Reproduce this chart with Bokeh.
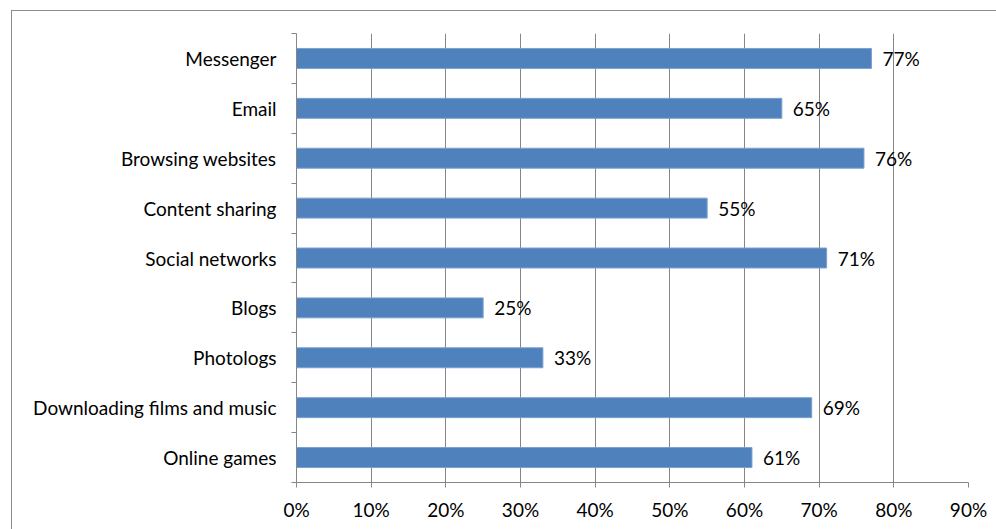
from bokeh.plotting import figure
from bokeh.models import ColumnDataSource, Range1d, FixedTicker, NumeralTickFormatter
from bokeh.core.properties import value
from bokeh.embed import file_html
from bokeh.resources import INLINE

categories = ["Messenger", "Email", "Browsing websites", "Content sharing", "Social networks",
              "Blogs", "Photologs", "Downloading films and music", "Online games"]
shares = [0.77, 0.65, 0.76, 0.55, 0.71, 0.25, 0.33, 0.69, 0.61]
share_labels = ["77%", "65%", "76%", "55%", "71%", "25%", "33%", "69%", "61%"]
x_ticks = [0, 0.1, 0.2, 0.3, 0.4, 0.5, 0.6, 0.7, 0.8, 0.9]

n = len(categories)
ypos = [n - i - 0.5 for i in range(n)]
src = ColumnDataSource(dict(y=ypos, v=shares, lab=share_labels, cat=categories))

FONT = "Lato"
FS = "19px"
GRAY = "#868686"

p = figure(width=1010, height=540, output_backend="svg", toolbar_location=None,
           x_range=Range1d(0, 0.9), y_range=Range1d(0, n),
           min_border_left=284, min_border_right=54, min_border_top=22, min_border_bottom=69)
p.margin = (10, 0, 0, 11)
p.styles = {"border": "1px solid #8c8c8c"}
p.outline_line_color = None
p.background_fill_color = "white"

p.hbar(y="y", right="v", left=0, height=0.4, source=src,
       fill_color="#4F81BD", line_color="#7BA0CF", line_width=1)
p.text(x="v", y="y", text="lab", source=src, x_offset=11,
       text_baseline="middle", text_align="left",
       text_font=value(FONT), text_font_size=FS, text_color="#000000")

# x axis
p.xaxis.ticker = FixedTicker(ticks=x_ticks)
p.xaxis.formatter = NumeralTickFormatter(format="0%")
p.xaxis.axis_line_color = GRAY
p.xaxis.major_tick_line_color = GRAY
p.xaxis.major_tick_out = 5
p.xaxis.major_tick_in = 0
p.xaxis.minor_tick_line_color = None
p.xaxis.major_label_text_font = FONT
p.xaxis.major_label_text_font_size = FS
p.xaxis.major_label_text_color = "#000000"
p.xaxis.major_label_standoff = 10

# y axis
p.yaxis.ticker = FixedTicker(ticks=ypos, minor_ticks=list(range(n + 1)))
p.yaxis.major_label_overrides = {y: c for y, c in zip(ypos, categories)}
p.yaxis.axis_line_color = GRAY
p.yaxis.major_tick_line_color = None
p.yaxis.minor_tick_line_color = GRAY
p.yaxis.minor_tick_out = 5
p.yaxis.minor_tick_in = 0
p.yaxis.major_label_text_font = FONT
p.yaxis.major_label_text_font_size = FS
p.yaxis.major_label_text_color = "#000000"
p.yaxis.major_label_standoff = 14

p.xgrid.ticker = FixedTicker(ticks=x_ticks)
p.xgrid.grid_line_color = GRAY
p.xgrid.grid_line_width = 1
p.ygrid.grid_line_color = None

open("out.html", "w").write(file_html(p, INLINE))
